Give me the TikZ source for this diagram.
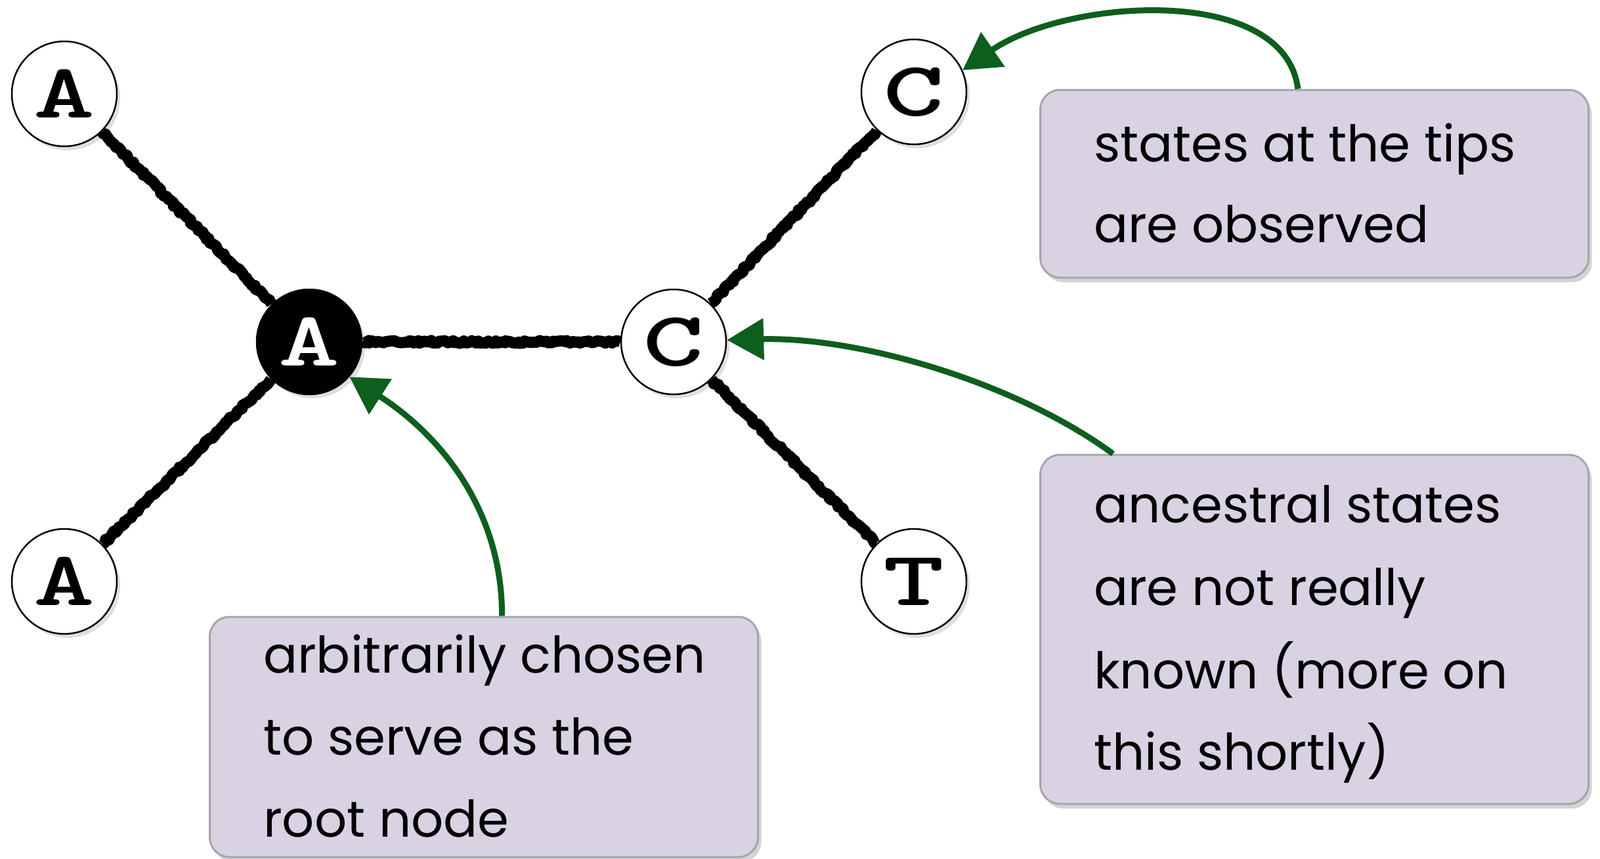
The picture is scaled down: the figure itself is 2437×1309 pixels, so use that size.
\documentclass[tikz,border=0pt]{standalone}
\usepackage{fontspec}
\newfontfamily\handfont{Poppins}
\usetikzlibrary{shadows,arrows.meta,decorations.pathmorphing,calc}
\definecolor{boxfill}{RGB}{216,210,227}
\definecolor{boxline}{RGB}{165,165,170}
\definecolor{arrowgreen}{RGB}{14,94,30}
\newcommand{\wideletter}[1]{\scalebox{1.5}[1]{#1}}
\begin{document}
\begin{tikzpicture}[x=1pt,y=-1pt,
  tipnode/.style={circle,draw=black,line width=2.5pt,fill=white,minimum size=160pt,inner sep=0pt,
    font=\fontsize{118}{118}\selectfont\ttfamily\bfseries,
    drop shadow={shadow xshift=5pt,shadow yshift=-6pt,opacity=0.25}},
  rootnode/.style={tipnode,fill=black,text=white},
  callout/.style={rectangle,rounded corners=30pt,draw=boxline,line width=3pt,fill=boxfill,inner sep=0pt,
    minimum width=835pt,
    drop shadow={shadow xshift=5pt,shadow yshift=-7pt,opacity=0.35}},
  linetext/.style={anchor=base west,inner sep=0pt,font=\fontsize{77}{77}\handfont},
  branch/.style={line width=17pt,draw=black,line join=round,decorate,decoration={random steps,segment length=4pt,amplitude=2.2pt}},
  pointer/.style={draw=arrowgreen,line width=9pt,-{Triangle[length=56pt,width=62pt]}}
]
\useasboundingbox (0,0) rectangle (2437,1309);

% tree nodes
\node[tipnode]  (a1) at (98,143) {\wideletter{A}};
\node[tipnode]  (a2) at (98,886) {\wideletter{A}};
\node[rootnode] (r)  at (471,521) {\wideletter{A}};
\node[tipnode]  (c1) at (1026,521) {\wideletter{C}};
\node[tipnode]  (c2) at (1392,140) {\wideletter{C}};
\node[tipnode]  (t)  at (1392,886) {\wideletter{T}};

% branches
\draw[branch] (a1) -- (r);
\draw[branch] (a2) -- (r);
\draw[branch] (r) -- (c1);
\draw[branch] (c1) -- (c2);
\draw[branch] (c1) -- (t);

% callout boxes
\node[callout,minimum height=286pt] (b1) at (2002,280) {};
\node[callout,minimum height=532pt] (b2) at (2002,959) {};
\node[callout,minimum height=366pt] (b3) at (737,1123) {};

\node[linetext] (b1l1) at (1666,246) {states at the tips};
\node[linetext] (b1l2) at (1666,369) {are observed};

\node[linetext] (b2l1) at (1666,796) {ancestral states};
\node[linetext] (b2l2) at (1666,922) {are not really};
\node[linetext] (b2l3) at (1666,1049) {known (more on};
\node[linetext] (b2l4) at (1666,1173) {this shortly)};

\node[linetext] (b3l1) at (401,1025) {arbitrarily chosen};
\node[linetext] (b3l2) at (401,1150) {to serve as the};
\node[linetext] (b3l3) at (401,1275) {root node};

% pointers
\coordinate (s1) at ($(b1.north west)!0.47!(b1.north east)$);
\coordinate (s2) at ($(b2.north west)!0.134!(b2.north east)$);
\coordinate (s3) at ($(b3.north west)!0.533!(b3.north east)$);
\draw[pointer] (s1) .. controls +(-20,-160) and +(160,-110) .. (c2.24);
\draw[pointer] (s2) .. controls +(-150,-110) and +(200,-5) .. (c1.2);
\draw[pointer] (s3) .. controls +(0,-160) and +(140,90) .. (r.-41);
\end{tikzpicture}
\end{document}
